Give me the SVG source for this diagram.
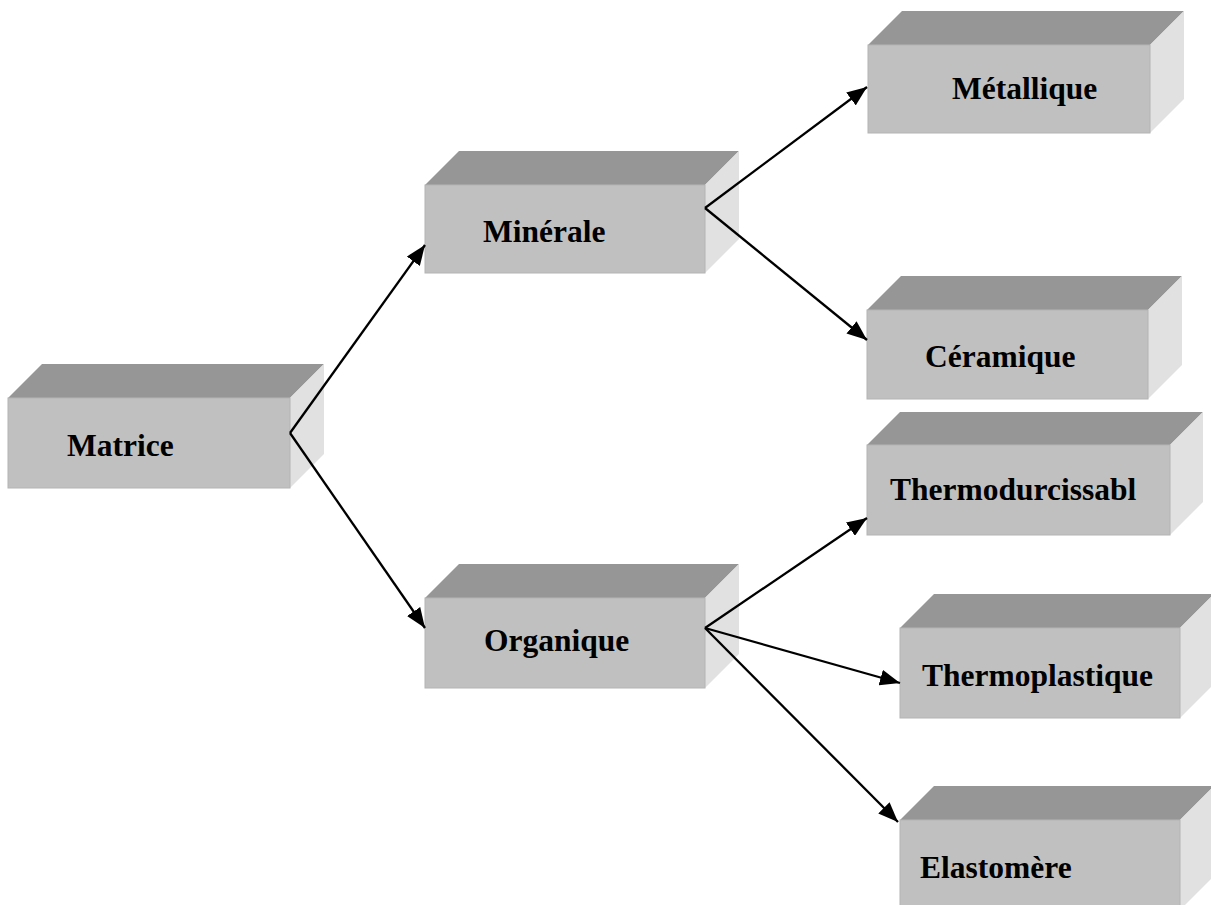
<svg xmlns="http://www.w3.org/2000/svg" width="1211" height="905" viewBox="0 0 1211 905">
  <style>
    .top { fill: #969696; }
    .front { fill: #c0c0c0; stroke: #b4b4b4; stroke-width: 1; }
    .side { fill: #e1e1e1; }
    .label { font-family: "Liberation Serif", "Times New Roman", serif; font-weight: bold; font-size: 31.5px; fill: #000; }
    .link { stroke: #000; stroke-width: 2.3; fill: none; marker-end: url(#arrow); }
  </style>
  <defs>
    <marker id="arrow" markerUnits="userSpaceOnUse" markerWidth="22" markerHeight="16" refX="20" refY="8" orient="auto">
      <path d="M0,0 L20,8 L0,16 Z" fill="#000"/>
    </marker>
  </defs>
  <rect width="1211" height="905" fill="#fff"/>

  <!-- Matrice -->
  <g id="matrice">
    <path class="top" d="M8,398 L42,364 L324,364 L290,398 Z"/>
    <path class="side" d="M290,398 L324,364 L324,454 L290,488 Z"/>
    <rect class="front" x="8" y="398" width="282" height="90"/>
    <text class="label" x="67" y="456">Matrice</text>
  </g>

  <!-- Minérale -->
  <g id="minerale">
    <path class="top" d="M425,185 L459,151 L739,151 L705,185 Z"/>
    <path class="side" d="M705,185 L739,151 L739,239 L705,273 Z"/>
    <rect class="front" x="425" y="185" width="280" height="88"/>
    <text class="label" x="483" y="242">Minérale</text>
  </g>

  <!-- Organique -->
  <g id="organique">
    <path class="top" d="M425,598 L459,564 L739,564 L705,598 Z"/>
    <path class="side" d="M705,598 L739,564 L739,654 L705,688 Z"/>
    <rect class="front" x="425" y="598" width="280" height="90"/>
    <text class="label" x="484" y="651">Organique</text>
  </g>

  <!-- Métallique -->
  <g id="metallique">
    <path class="top" d="M868,45 L902,11 L1184,11 L1150,45 Z"/>
    <path class="side" d="M1150,45 L1184,11 L1184,99 L1150,133 Z"/>
    <rect class="front" x="868" y="45" width="282" height="88"/>
    <text class="label" x="952" y="99">Métallique</text>
  </g>

  <!-- Céramique -->
  <g id="ceramique">
    <path class="top" d="M867,310 L901,276 L1182,276 L1148,310 Z"/>
    <path class="side" d="M1148,310 L1182,276 L1182,365 L1148,399 Z"/>
    <rect class="front" x="867" y="310" width="281" height="89"/>
    <text class="label" x="925" y="367">Céramique</text>
  </g>

  <!-- Thermodurcissabl -->
  <g id="thermodurcissable">
    <path class="top" d="M867,445 L900,412 L1203,412 L1170,445 Z"/>
    <path class="side" d="M1170,445 L1203,412 L1203,502 L1170,535 Z"/>
    <rect class="front" x="867" y="445" width="303" height="90"/>
    <text class="label" x="890" y="500">Thermodurcissabl</text>
  </g>

  <!-- Thermoplastique -->
  <g id="thermoplastique">
    <path class="top" d="M900,628 L934,594 L1214,594 L1180,628 Z"/>
    <path class="side" d="M1180,628 L1214,594 L1214,684 L1180,718 Z"/>
    <rect class="front" x="900" y="628" width="280" height="90"/>
    <text class="label" x="922" y="686">Thermoplastique</text>
  </g>

  <!-- Elastomère -->
  <g id="elastomere">
    <path class="top" d="M900,820 L934,786 L1214,786 L1180,820 Z"/>
    <path class="side" d="M1180,820 L1214,786 L1214,876 L1180,910 Z"/>
    <rect class="front" x="900" y="820" width="280" height="90"/>
    <text class="label" x="920" y="878">Elastomère</text>
  </g>

  <!-- Connectors -->
  <g id="connectors">
    <line class="link" x1="290" y1="433" x2="425" y2="245"/>
    <line class="link" x1="290" y1="433" x2="425" y2="628"/>
    <line class="link" x1="705" y1="208" x2="867" y2="87"/>
    <line class="link" x1="705" y1="208" x2="867" y2="340"/>
    <line class="link" x1="705" y1="628" x2="867" y2="518"/>
    <line class="link" x1="705" y1="628" x2="900" y2="683"/>
    <line class="link" x1="705" y1="628" x2="898" y2="822"/>
  </g>
</svg>
